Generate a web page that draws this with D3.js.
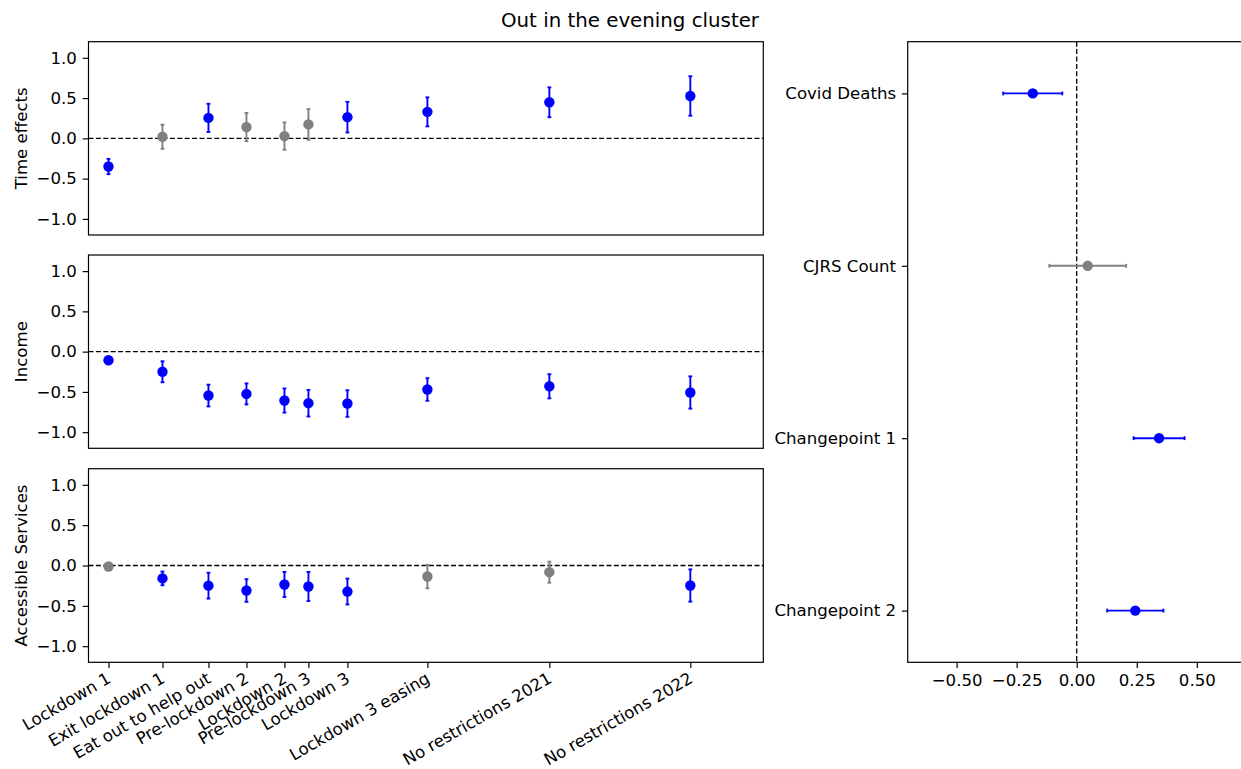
<!DOCTYPE html>
<html><head><meta charset="utf-8">
<script src="https://cdn.jsdelivr.net/npm/d3@7"></script>
<style>
html,body{margin:0;padding:0;background:#fff;}
text{font-family:"DejaVu Sans",sans-serif;fill:#000;}
</style></head>
<body>
<svg id="chart" width="1241" height="769"></svg>
<script>
// ---------------- DATA ----------------
const periods = ["Lockdown 1","Exit lockdown 1","Eat out to help out","Pre-lockdown 2","Lockdown 2",
  "Pre-lockdown 3","Lockdown 3","Lockdown 3 easing","No restrictions 2021","No restrictions 2022"];
// approximate days since start of Lockdown 1 (period position on the time axis)
const periodDays = [0,54,100,138,176,200,239,319,441,582];

const timeEffects = [-0.35,0.02,0.254,0.14,0.028,0.173,0.263,0.329,0.448,0.526];
const timeErr     = [0.095,0.15,0.175,0.175,0.17,0.19,0.19,0.18,0.185,0.245];

const incomeEffects = [-0.107,-0.25,-0.545,-0.525,-0.607,-0.64,-0.644,-0.47,-0.43,-0.507];
const incomeErr     = [0.04,0.13,0.135,0.13,0.15,0.165,0.165,0.14,0.15,0.2];

const accessEffects = [-0.012,-0.16,-0.25,-0.31,-0.235,-0.26,-0.323,-0.137,-0.083,-0.248];
const accessErr     = [0.03,0.085,0.16,0.14,0.155,0.18,0.16,0.145,0.13,0.2];

const panelLabels = ["Time effects","Income","Accessible Services"];

const covariates = ["Covid Deaths","CJRS Count","Changepoint 1","Changepoint 2"];
const covEst = [-0.183,0.046,0.343,0.244];
const covErr = [0.123,0.16,0.106,0.117];

const yTicks = [-1.0,-0.5,0.0,0.5,1.0];
const xTicksRight = [-0.5,-0.25,0,0.25,0.5];
const title = "Out in the evening cluster";

// ---------------- LAYOUT ----------------
const svg = d3.select("#chart");
const BLUE = "#0000ff", GREY = "#808080";
const FS = 16.6;
const TICK = 5.8, PAD = 5.8;
const EW = 1.9, CAP = 1.9, R = 5.2;
const colorOf = (v,e) => (v - e < 0 && v + e > 0) ? GREY : BLUE;

const leftX0 = 88.5, leftX1 = 763.3;
const panelsY = [[41.7,235],[255,448.3],[468.7,662.3]];
const x = d3.scaleLinear().domain([-20,655]).range([leftX0,leftX1]);

const series = [
  {v: timeEffects, e: timeErr},
  {v: incomeEffects, e: incomeErr},
  {v: accessEffects, e: accessErr}
];

series.forEach((s, pi) => {
  const [t, b] = panelsY[pi];
  const y = d3.scaleLinear().domain([-1.2,1.2]).range([b,t]);
  const g = svg.append("g");

  g.append("line").attr("x1",leftX0).attr("x2",leftX1)
    .attr("y1",y(0)).attr("y2",y(0))
    .attr("stroke","#000").attr("stroke-width",1.3).attr("stroke-dasharray","5,2.4");

  const data = periods.map((p,i)=>({p, d: periodDays[i], v: s.v[i], e: s.e[i]}));
  const pts = g.selectAll("g.pt").data(data).enter().append("g");
  pts.append("line").attr("x1",d=>x(d.d)).attr("x2",d=>x(d.d))
    .attr("y1",d=>y(d.v-d.e)).attr("y2",d=>y(d.v+d.e))
    .attr("stroke",d=>colorOf(d.v,d.e)).attr("stroke-width",EW);
  [-1,1].forEach(sg=>{
    pts.append("line").attr("x1",d=>x(d.d)-CAP).attr("x2",d=>x(d.d)+CAP)
      .attr("y1",d=>y(d.v+sg*d.e)).attr("y2",d=>y(d.v+sg*d.e))
      .attr("stroke",d=>colorOf(d.v,d.e)).attr("stroke-width",EW);
  });
  pts.append("circle").attr("cx",d=>x(d.d)).attr("cy",d=>y(d.v)).attr("r",R)
    .attr("fill",d=>colorOf(d.v,d.e));

  g.append("rect").attr("x",leftX0).attr("y",t).attr("width",leftX1-leftX0).attr("height",b-t)
    .attr("fill","none").attr("stroke","#000").attr("stroke-width",1.2);

  const ya = g.append("g").attr("transform",`translate(${leftX0},0)`)
    .call(d3.axisLeft(y).tickValues(yTicks).tickFormat(d3.format(".1f")).tickSize(TICK).tickPadding(PAD));
  ya.select(".domain").remove();
  ya.selectAll("line").attr("stroke","#000").attr("stroke-width",1.2);
  ya.selectAll("text").style("font-size",FS+"px").style("font-family","DejaVu Sans");

  g.append("text").attr("transform",`translate(21.5,${(t+b)/2}) rotate(-90)`)
    .attr("text-anchor","middle").attr("dy","0.35em").style("font-size",FS+"px").text(panelLabels[pi]);

  if (pi === 2) {
    const xa = g.append("g").attr("transform",`translate(0,${b})`)
      .call(d3.axisBottom(x).tickValues(periodDays).tickFormat((d,i)=>periods[i]).tickSize(TICK));
    xa.select(".domain").remove();
    xa.selectAll("line").attr("stroke","#000").attr("stroke-width",1.2);
    xa.selectAll("text")
      .attr("y",0).attr("dy",0)
      .attr("text-anchor","end")
      .attr("dominant-baseline","hanging")
      .attr("transform",`translate(-3,${TICK+PAD-2.5}) rotate(-30)`)
      .style("font-size",FS+"px").style("font-family","DejaVu Sans");
  }
});

// ---------------- RIGHT PANEL ----------------
const rX0 = 907.7, rX1 = 1245.7, rT = 41.7, rB = 662.3;
const xr = d3.scaleLinear().domain([-0.7036,0.7036]).range([rX0,rX1]);
const yr = d3.scaleLinear().domain([-0.3,3.3]).range([rT,rB]);
const gr = svg.append("g");

gr.append("line").attr("x1",xr(0)).attr("x2",xr(0)).attr("y1",rT).attr("y2",rB)
  .attr("stroke","#000").attr("stroke-width",1.3).attr("stroke-dasharray","5,2.4");

const cdata = covariates.map((c,i)=>({c, i, v: covEst[i], e: covErr[i]}));
const cp = gr.selectAll("g.cp").data(cdata).enter().append("g");
cp.append("line").attr("y1",d=>yr(d.i)).attr("y2",d=>yr(d.i))
  .attr("x1",d=>xr(d.v-d.e)).attr("x2",d=>xr(d.v+d.e))
  .attr("stroke",d=>colorOf(d.v,d.e)).attr("stroke-width",EW);
[-1,1].forEach(sg=>{
  cp.append("line").attr("x1",d=>xr(d.v+sg*d.e)).attr("x2",d=>xr(d.v+sg*d.e))
    .attr("y1",d=>yr(d.i)-CAP).attr("y2",d=>yr(d.i)+CAP)
    .attr("stroke",d=>colorOf(d.v,d.e)).attr("stroke-width",EW);
});
cp.append("circle").attr("cx",d=>xr(d.v)).attr("cy",d=>yr(d.i)).attr("r",R)
  .attr("fill",d=>colorOf(d.v,d.e));

gr.append("rect").attr("x",rX0).attr("y",rT).attr("width",rX1-rX0).attr("height",rB-rT)
  .attr("fill","none").attr("stroke","#000").attr("stroke-width",1.2);

const yra = gr.append("g").attr("transform",`translate(${rX0},0)`)
  .call(d3.axisLeft(yr).tickValues(d3.range(covariates.length)).tickFormat(i=>covariates[i]).tickSize(TICK).tickPadding(PAD));
yra.select(".domain").remove();
yra.selectAll("line").attr("stroke","#000").attr("stroke-width",1.2);
yra.selectAll("text").style("font-size",FS+"px").style("font-family","DejaVu Sans");

const xra = gr.append("g").attr("transform",`translate(0,${rB})`)
  .call(d3.axisBottom(xr).tickValues(xTicksRight).tickFormat(d3.format(".2f")).tickSize(TICK).tickPadding(PAD));
xra.select(".domain").remove();
xra.selectAll("line").attr("stroke","#000").attr("stroke-width",1.2);
xra.selectAll("text").style("font-size",FS+"px").style("font-family","DejaVu Sans");

svg.append("text").attr("x",630).attr("y",27).attr("text-anchor","middle")
  .style("font-size","19.8px").text(title);
</script>
</body></html>
